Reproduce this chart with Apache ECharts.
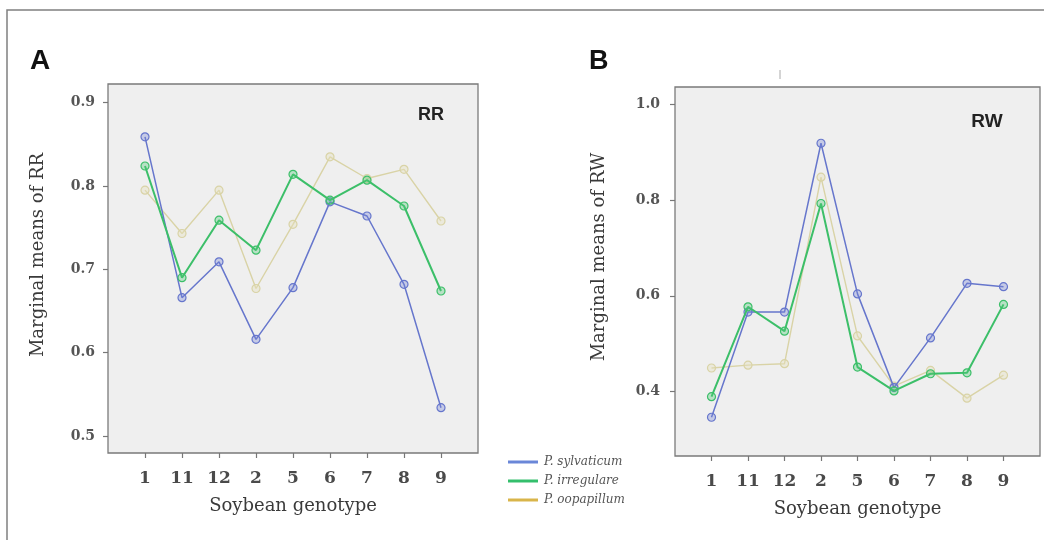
<!DOCTYPE html>
<html>
<head>
<meta charset="utf-8">
<script src="https://cdn.jsdelivr.net/npm/echarts@6/dist/echarts.min.js"></script>
<style>
  html, body { margin: 0; padding: 0; background: #fff; }
  #chart { width: 1044px; height: 540px; }
</style>
</head>
<body>
<div id="chart"></div>
<script>
// ---- data ----
const categories = ['1', '11', '12', '2', '5', '6', '7', '8', '9'];
const seriesNames = ['P. sylvaticum', 'P. irregulare', 'P. oopapillum'];

const rrSylvaticum = [0.859, 0.666, 0.709, 0.616, 0.678, 0.781, 0.764, 0.682, 0.534];
const rrIrregulare = [0.824, 0.690, 0.759, 0.723, 0.814, 0.783, 0.807, 0.776, 0.674];
const rrOopapillum = [0.795, 0.743, 0.795, 0.677, 0.754, 0.835, 0.809, 0.820, 0.758];

const rwSylvaticum = [0.346, 0.566, 0.566, 0.919, 0.604, 0.408, 0.512, 0.626, 0.619];
const rwIrregulare = [0.389, 0.577, 0.526, 0.793, 0.451, 0.401, 0.437, 0.439, 0.582];
const rwOopapillum = [0.449, 0.455, 0.458, 0.848, 0.516, 0.411, 0.444, 0.386, 0.434];

const rrTicks = [0.5, 0.6, 0.7, 0.8, 0.9];
const rwTicks = [0.4, 0.6, 0.8, 1.0];

// ---- styles ----
const lineColors = ['#6676cc', '#3cbf69', '#d9d3a6'];
const fillColors = ['rgba(120,135,215,0.35)', 'rgba(80,200,120,0.35)', 'rgba(230,225,190,0.4)'];
const lineWidths = [1.5, 2, 1.4];
const legendColors = ['#6a87d8', '#34bf6c', '#d9b54a'];
const serif = '"DejaVu Serif", "Liberation Serif", serif';
const sans = '"Liberation Sans", Arial, sans-serif';

const xPos = categories.map((c, i) => i + 1);

function pairs(vals) { return vals.map((v, i) => [xPos[i], v]); }

function makeSeries(vals, k, gi) {
  return {
    type: 'line',
    name: seriesNames[k],
    xAxisIndex: gi, yAxisIndex: gi,
    data: pairs(vals),
    symbol: 'circle',
    symbolSize: 8,
    showSymbol: true,
    z: k === 2 ? 2 : (k === 1 ? 4 : 3),
    lineStyle: { color: lineColors[k], width: lineWidths[k] },
    itemStyle: { color: fillColors[k], borderColor: lineColors[k], borderWidth: 1.2 },
    emphasis: { disabled: true },
    animation: false
  };
}

function xAxisFor(gi) {
  return {
    type: 'value', gridIndex: gi, min: 0, max: 10,
    splitLine: { show: false },
    axisLine: { show: false },
    axisTick: { show: true, customValues: xPos, length: 5, inside: false,
                lineStyle: { color: '#777', width: 1.2 } },
    axisLabel: { customValues: xPos, margin: 17,
                 formatter: v => categories[v - 1] || '',
                 fontFamily: serif, fontSize: 17, fontWeight: 'bold', color: '#4a4a4a' },
    name: 'Soybean genotype', nameLocation: 'middle', nameGap: 44,
    nameTextStyle: { fontFamily: serif, fontSize: 18, color: '#3a3a3a' }
  };
}

function yAxisFor(gi, ticks, min, max, margin) {
  return {
    type: 'value', gridIndex: gi, min: min, max: max,
    splitLine: { show: false },
    axisLine: { show: false },
    axisTick: { show: true, customValues: ticks, length: 5, inside: false,
                lineStyle: { color: '#777', width: 1.2 } },
    axisLabel: { customValues: ticks, margin: margin,
                 formatter: v => v.toFixed(1),
                 fontFamily: serif, fontSize: 14, fontWeight: 'bold', color: '#555' }
  };
}

const chart = echarts.init(document.getElementById('chart'), null, { renderer: 'canvas' });

chart.setOption({
  backgroundColor: '#ffffff',
  animation: false,
  grid: [
    { left: 108, top: 84, width: 370, height: 369, show: true,
      backgroundColor: '#efefef', borderColor: '#7a7a7a', borderWidth: 1.3 },
    { left: 675, top: 87, width: 365, height: 369, show: true,
      backgroundColor: '#efefef', borderColor: '#7a7a7a', borderWidth: 1.3 }
  ],
  xAxis: [xAxisFor(0), xAxisFor(1)],
  yAxis: [
    yAxisFor(0, rrTicks, 0.4796, 0.9224, 13),
    yAxisFor(1, rwTicks, 0.265, 1.0366, 15)
  ],
  legend: {
    orient: 'vertical', left: 503, top: 451,
    itemWidth: 30, itemHeight: 3, itemGap: 7, icon: 'rect',
    textStyle: { fontFamily: serif, fontSize: 12, fontStyle: 'italic', color: '#555', padding: [0, 0, 0, 1] },
    data: seriesNames.map((n, k) => ({
      name: n,
      itemStyle: { color: legendColors[k], borderColor: legendColors[k], borderWidth: 0, opacity: 1 },
      lineStyle: { color: legendColors[k], width: 3 }
    })),
    selectedMode: false
  },
  series: [
    makeSeries(rrSylvaticum, 0, 0),
    makeSeries(rrIrregulare, 1, 0),
    makeSeries(rrOopapillum, 2, 0),
    makeSeries(rwSylvaticum, 0, 1),
    makeSeries(rwIrregulare, 1, 1),
    makeSeries(rwOopapillum, 2, 1)
  ],
  graphic: [
    { type: 'polyline', silent: true, z: 100,
      shape: { points: [[7, 540], [7, 10], [1044, 10]] },
      style: { stroke: '#808080', lineWidth: 1.5, fill: null } },
    { type: 'line', silent: true,
      shape: { x1: 780, y1: 70, x2: 780, y2: 79 },
      style: { stroke: '#aaa', lineWidth: 1 } },
    { type: 'text', silent: true, x: 30, y: 61,
      style: { text: 'A', fontFamily: sans, fontSize: 28, fontWeight: 'bold', fill: '#111',
               textAlign: 'left', textVerticalAlign: 'middle' } },
    { type: 'text', silent: true, x: 589, y: 62,
      style: { text: 'B', fontFamily: sans, fontSize: 27, fontWeight: 'bold', fill: '#111',
               textAlign: 'left', textVerticalAlign: 'middle' } },
    { type: 'text', silent: true, x: 431, y: 115, z: 10,
      style: { text: 'RR', fontFamily: sans, fontSize: 18, fontWeight: 'bold', fill: '#222',
               textAlign: 'center', textVerticalAlign: 'middle' } },
    { type: 'text', silent: true, x: 987, y: 122, z: 10,
      style: { text: 'RW', fontFamily: sans, fontSize: 19, fontWeight: 'bold', fill: '#222',
               textAlign: 'center', textVerticalAlign: 'middle' } },
    { type: 'text', silent: true, x: 38, y: 255, rotation: Math.PI / 2,
      style: { text: 'Marginal means of RR', fontFamily: serif, fontSize: 18, fill: '#3a3a3a',
               textAlign: 'center', textVerticalAlign: 'middle' } },
    { type: 'text', silent: true, x: 599, y: 257, rotation: Math.PI / 2,
      style: { text: 'Marginal means of RW', fontFamily: serif, fontSize: 18, fill: '#3a3a3a',
               textAlign: 'center', textVerticalAlign: 'middle' } }
  ]
});
</script>
</body>
</html>
